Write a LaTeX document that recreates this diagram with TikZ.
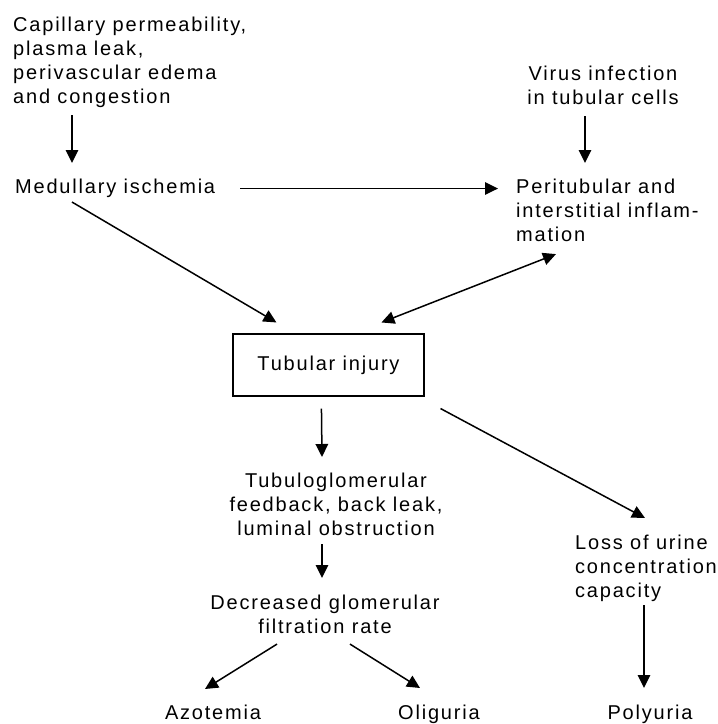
\documentclass[tikz,border=0pt]{standalone}
\usepackage{fontspec}
\setmainfont{Liberation Sans}[LetterSpace=9]
\usetikzlibrary{arrows.meta,calc}
\tikzset{>={Triangle[length=13pt,width=12.5pt]},every node/.style={font=\fontsize{20}{24}\selectfont,inner sep=0pt},flow/.style={line width=1.5pt,->},flows/.style={line width=1.5pt,<->}}

\begin{document}
\begin{tikzpicture}[x=1pt,y=-1pt]
\useasboundingbox (0,0) rectangle (718,724);
\node[anchor=north west,align=left] (cap) at (13,17){Capillary permeability,\\plasma leak,\\perivascular edema\\and congestion};
\node[anchor=north,align=center] (vir) at (603,66){Virus infection\\in tubular cells};
\node[anchor=north west] (med) at (15,179){Medullary ischemia};
\node[anchor=north west,align=left] (per) at (516,179){Peritubular and\\interstitial inflam-\\mation};
\node[draw,line width=1.1pt,minimum width=191pt,minimum height=62pt] (inj) at (328.5,365){Tubular injury};
\node[anchor=north,align=center] (tgf) at (336,473){Tubuloglomerular\\feedback, back leak,\\luminal obstruction};
\node[anchor=north,align=center] (gfr) at (325,595){Decreased glomerular\\filtration rate};
\node[anchor=north west,align=left] (los) at (575,535){Loss of urine\\concentration\\capacity};
\node[anchor=north] (azo) at (213,705){Azotemia};\node[anchor=north] (oli) at (439,705){Oliguria};\node[anchor=north] (pol) at (650,705){Polyuria};
% upper part
\draw[flow] ($(cap.south west)+(59,7)$)--($(med.north west)+(57,-16)$);
\draw[flow] ($(vir.south)+(-18,11)$)--($(per.north west)+(69,-16)$);
\draw[flow] ($(med.east)+(25,0)$)--($(per.west |- med.east)+(-18,0)$);
\draw[flow] ($(med.south west)+(57,4)$)--($(inj.north west)+(44,-11)$);
\draw[flows] ($(inj.north west)+(149,-11)$)--($(per.south west)+(40,12)$);
% lower part
\draw[flow] ($(inj.south west)+(89,12)$)--($(tgf.north)+(-14,-16)$);
\draw[flow] ($(tgf.south)+(-14,8)$)--($(gfr.north)+(-3,-17)$);
\draw[flow] ($(gfr.south)+(-48,10)$)--($(azo.north)+(-8,-16)$);\draw[flow] ($(gfr.south)+(25,10)$)--($(oli.north)+(-19,-17)$);
\draw[flow] ($(inj.south east)+(16,12)$)--($(los.north west)+(70,-17)$);
\draw[flow] ($(los.south west)+(69,3)$)--($(pol.north)+(-6,-17)$);
\end{tikzpicture}
\end{document}
